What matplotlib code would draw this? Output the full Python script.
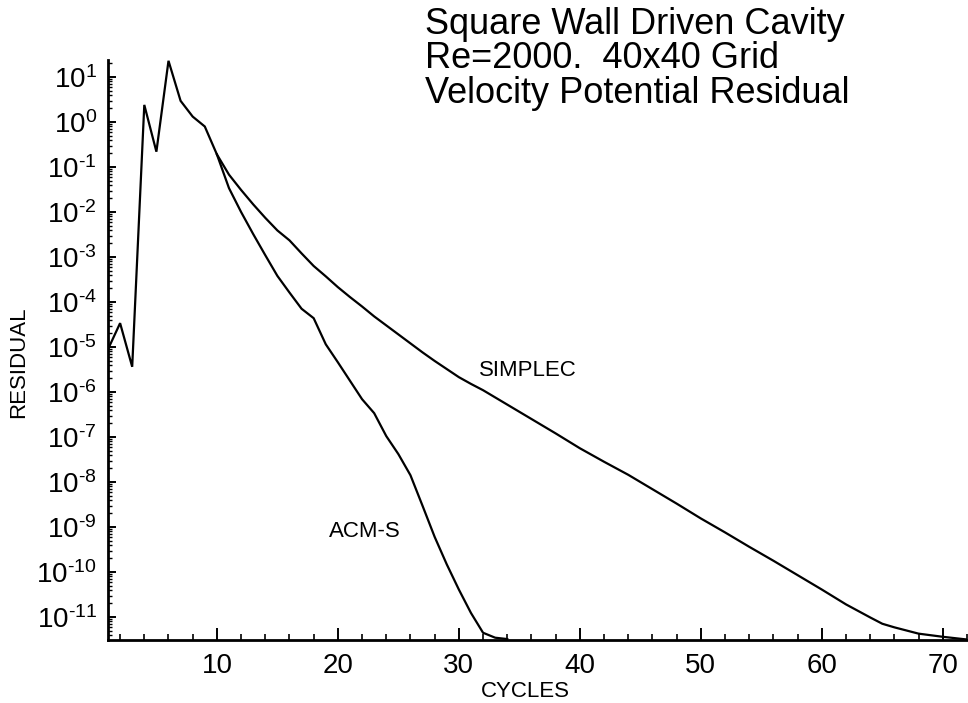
import numpy as np
import matplotlib
matplotlib.use("Agg")
import matplotlib.pyplot as plt
from matplotlib.ticker import LogLocator, MultipleLocator, FixedLocator, NullFormatter, FixedFormatter

plt.rcParams['font.family'] = ['Liberation Sans', 'DejaVu Sans']
plt.rcParams['mathtext.fontset'] = 'custom'
plt.rcParams['mathtext.rm'] = 'Liberation Sans'
plt.rcParams['mathtext.it'] = 'Liberation Sans:italic'
plt.rcParams['mathtext.bf'] = 'Liberation Sans:bold'
plt.rcParams['axes.unicode_minus'] = False

# ---- data (log10 of residual) ----
common_cycles = [1, 2, 3, 4, 5, 6, 7, 8, 9, 10]
common_log = [-5.05, -4.47, -5.44, 0.38, -0.66, 1.36, 0.47, 0.12, -0.10, -0.72]

simplec_cycles = [11, 12, 13, 14, 15, 16, 17, 18, 19, 20, 21, 22, 23, 24, 25,
                  26, 27, 28, 29, 30, 31, 32, 34, 36, 38, 40, 42, 44, 46, 48,
                  50, 52, 54, 56, 58, 60, 62, 64, 65, 66, 68, 70, 72]
simplec_log = [-1.17, -1.51, -1.83, -2.13, -2.41, -2.63, -2.92, -3.20, -3.43,
               -3.67, -3.89, -4.10, -4.32, -4.52, -4.72, -4.92, -5.12, -5.31,
               -5.49, -5.67, -5.82, -5.96, -6.28, -6.60, -6.92, -7.25, -7.55,
               -7.84, -8.16, -8.48, -8.81, -9.12, -9.44, -9.75, -10.07, -10.39,
               -10.72, -11.01, -11.15, -11.23, -11.37, -11.44, -11.50]

acms_cycles = [11, 12, 13, 14, 15, 16, 17, 18, 19, 20, 21, 22, 23, 24, 25, 26,
               27, 28, 29, 30, 31, 32, 33, 34]
acms_log = [-1.47, -2.00, -2.49, -2.96, -3.42, -3.79, -4.15, -4.36, -4.94,
            -5.34, -5.75, -6.16, -6.47, -6.98, -7.38, -7.85, -8.53, -9.22,
            -9.83, -10.39, -10.91, -11.35, -11.46, -11.49]

title_lines = ["Square Wall Driven Cavity", "Re=2000.  40x40 Grid",
               "Velocity Potential Residual"]
x_major = [10, 20, 30, 40, 50, 60, 70]
y_major_exp = [1, 0, -1, -2, -3, -4, -5, -6, -7, -8, -9, -10, -11]

# ---- build series ----
sx = np.array(common_cycles + simplec_cycles)
sy = 10.0 ** np.array(common_log + simplec_log)
ax_ = np.array(common_cycles[-1:] + acms_cycles)
ay = 10.0 ** np.array(common_log[-1:] + acms_log)

W, H = 968, 703
fig = plt.figure(figsize=(W / 100, H / 100), dpi=100)
left_px, right_px, top_px, bot_px = 108, 967, 60, 639.5
ax = fig.add_axes([left_px / W, 1 - bot_px / H,
                   (right_px - left_px) / W, (bot_px - top_px) / H])

ax.plot(sx, sy, color='black', lw=1.6, solid_joinstyle='miter')
ax.plot(ax_, ay, color='black', lw=1.6, solid_joinstyle='miter')

ax.set_yscale('log')
ax.set_xlim(1, 72)
ax.set_ylim(10 ** -11.5, 10 ** (1 + 17 / 45))

for s in ['top', 'right']:
    ax.spines[s].set_visible(False)
for s in ['left', 'bottom']:
    ax.spines[s].set_linewidth(2.0)


def exp_label(e):
    s = str(e).replace('-', '\u2010')
    return r"$\mathdefault{10^{%s}}$" % s


ax.xaxis.set_major_locator(FixedLocator(x_major))
ax.xaxis.set_minor_locator(MultipleLocator(2))
ax.yaxis.set_major_locator(FixedLocator([10.0 ** e for e in y_major_exp]))
ax.yaxis.set_major_formatter(FixedFormatter([exp_label(e) for e in y_major_exp]))
ax.yaxis.set_minor_locator(LogLocator(base=10, subs=np.arange(2, 10), numticks=30))
ax.yaxis.set_minor_formatter(NullFormatter())

ax.tick_params(axis='x', which='major', direction='in', length=8.5, width=1.4,
               labelsize=20, pad=10)
ax.tick_params(axis='x', which='minor', direction='in', length=4.3, width=1.2)
ax.tick_params(axis='y', which='major', direction='in', length=6, width=1.4,
               labelsize=20, pad=8)
ax.tick_params(axis='y', which='minor', direction='in', length=3, width=1.0)

# labels
fig.text(18.5 / W, 1 - 362 / H, "RESIDUAL", rotation=90, fontsize=16,
         ha='center', va='center')
fig.text(525 / W, 1 - 697 / H, "CYCLES", fontsize=16, ha='center', va='baseline')

for i, line in enumerate(title_lines):
    fig.text(425 / W, 1 - (34 + 34.5 * i) / H, line, fontsize=26,
             ha='left', va='baseline')

ax.text(31.7, 10 ** -5.64, "SIMPLEC", fontsize=16, ha='left', va='baseline')
ax.text(19.26, 10 ** -9.22, "ACM-S", fontsize=16, ha='left', va='baseline')

fig.savefig("out.png", dpi=100)
